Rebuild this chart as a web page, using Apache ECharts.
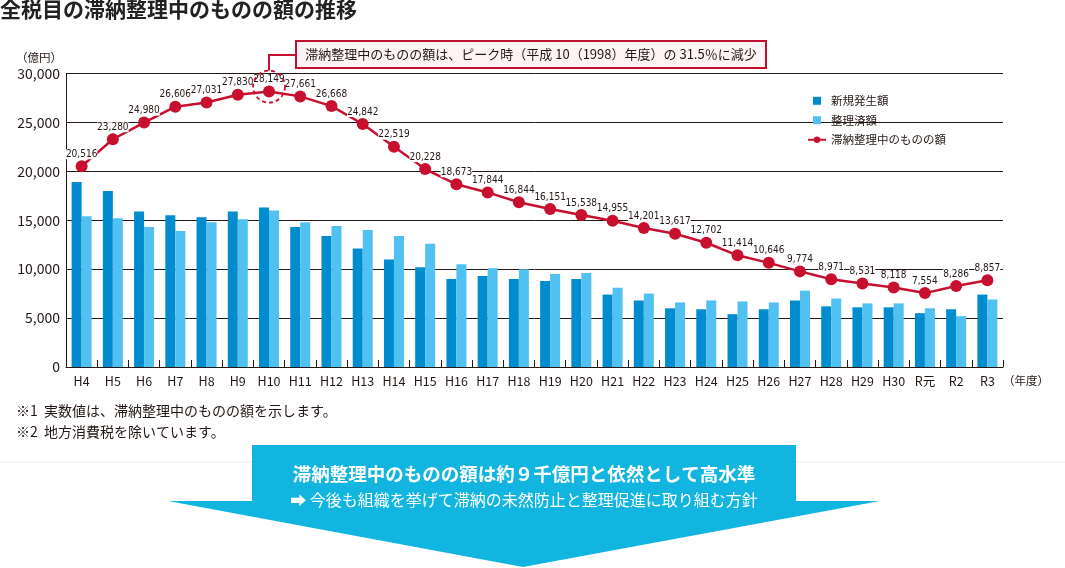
<!DOCTYPE html>
<html><head><meta charset="utf-8">
<script src="https://cdn.jsdelivr.net/npm/echarts@6/dist/echarts.min.js"></script>
<style>html,body{margin:0;padding:0;background:#fff}#c{width:1065px;height:568px}</style>
</head><body><div id="c"></div>
<script>
const categories = ['H4','H5','H6','H7','H8','H9','H10','H11','H12','H13','H14','H15','H16','H17','H18','H19','H20','H21','H22','H23','H24','H25','H26','H27','H28','H29','H30','R元','R2','R3'];
const newArrears = [18900,18000,15900,15500,15300,15900,16300,14300,13400,12100,11000,10200,9000,9300,9000,8800,9000,7400,6800,6000,5900,5400,5900,6800,6200,6100,6100,5500,5900,7400];
const settled = [15400,15200,14300,13900,14800,15100,16000,14800,14400,14000,13400,12600,10500,10100,10000,9500,9600,8100,7500,6600,6800,6700,6600,7800,7000,6500,6500,6000,5200,6900];
const outstanding = [20516,23280,24980,26606,27031,27830,28149,27661,26668,24842,22519,20228,18673,17844,16844,16151,15538,14955,14201,13617,12702,11414,10646,9774,8971,8531,8118,7554,8286,8857];
const seriesNames = ['新規発生額','整理済額','滞納整理中のものの額'];
const peakIndex = 6;

const JP = '"Noto Sans CJK JP","Noto Sans",sans-serif';
const NARROW = '"DejaVu Sans Condensed","Liberation Sans Narrow","Roboto",sans-serif';
const INK = '#231815';
const RED = '#c8102e';

const chart = echarts.init(document.getElementById('c'), null, {renderer: 'canvas'});
chart.setOption({
  animation: false,
  textStyle: {fontFamily: JP},
  grid: {left: 66, right: 62, top: 73.5, bottom: 201, containLabel: false},
  legend: {
    orient: 'vertical', left: 802, top: 90, itemWidth: 18, itemHeight: 8, itemGap: 8,
    textStyle: {fontSize: 11.5, color: INK, fontFamily: JP},
    data: [
      {name: seriesNames[0], icon: 'path://M0 0H10V10H0Z'},
      {name: seriesNames[1], icon: 'path://M0 0H10V10H0Z'},
      {name: seriesNames[2]}
    ]
  },
  xAxis: {
    type: 'category', data: categories, boundaryGap: true,
    axisLine: {lineStyle: {color: INK, width: 1}},
    axisTick: {show: true, inside: true, length: 7, interval: 0, lineStyle: {color: INK}},
    axisLabel: {interval: 0, fontSize: 12.5, color: INK, margin: 8, fontFamily: JP},
    splitLine: {show: false}
  },
  yAxis: {
    type: 'value', min: 0, max: 30000, interval: 5000,
    axisLine: {show: true, lineStyle: {color: INK, width: 1}},
    axisTick: {show: false},
    axisLabel: {fontSize: 14, color: INK, margin: 6, fontFamily: JP},
    splitLine: {lineStyle: {color: INK, width: 1}}
  },
  series: [
    {name: seriesNames[0], type: 'bar', data: newArrears, barWidth: 10, barGap: '0%', itemStyle: {color: '#008ccf'}},
    {name: seriesNames[1], type: 'bar', data: settled, barWidth: 10, barGap: '0%', itemStyle: {color: '#50c1f0'}},
    {name: seriesNames[2], type: 'line', data: outstanding, z: 5,
     symbol: 'circle', symbolSize: 12, itemStyle: {color: RED}, lineStyle: {color: RED, width: 2.5},
     label: {show: true, position: 'top', distance: 1, fontSize: 10, fontFamily: NARROW, color: INK,
             backgroundColor: '#fff', padding: [0, 0],
             formatter: p => p.value.toLocaleString('en-US')}}
  ]
});

const pk = chart.convertToPixel({seriesIndex: 2}, [peakIndex, outstanding[peakIndex]]);
const cx = pk[0], cy = pk[1] - 5, cr = 16;

chart.setOption({
  graphic: [
    {type: 'text', left: 0, top: -1, style: {text: '全税目の滞納整理中のものの額の推移', font: 'bold 21px ' + JP, fill: '#222'}},
    {type: 'text', x: 39, y: 58, style: {text: '（億円）', font: '11.5px ' + JP, fill: INK, align: 'center', verticalAlign: 'middle'}},
    {type: 'text', x: 1003, y: 381, style: {text: '（年度）', font: '11.5px ' + JP, fill: INK, align: 'left', verticalAlign: 'middle'}},
    {type: 'polyline', shape: {points: [[296, 55], [cx, 55], [cx, cy - cr]]}, style: {stroke: RED, lineWidth: 2, fill: null}},
    {type: 'rect', shape: {x: 296, y: 41, width: 470, height: 27}, style: {stroke: '#c0102e', lineWidth: 2, fill: '#fdf3f5'}},
    {type: 'text', x: 531, y: 54.5, style: {text: '滞納整理中のものの額は、ピーク時（平成 10（1998）年度）の 31.5％に減少', font: '13px ' + JP, fill: INK, align: 'center', verticalAlign: 'middle'}},
    {type: 'circle', shape: {cx: cx, cy: cy, r: cr}, style: {stroke: RED, lineWidth: 1.8, lineDash: [4, 3], fill: null}, z: 10},
    {type: 'text', x: 16, y: 411, style: {text: '※1  実数値は、滞納整理中のものの額を示します。', font: '14px ' + JP, fill: INK, verticalAlign: 'middle'}},
    {type: 'text', x: 16, y: 432, style: {text: '※2  地方消費税を除いています。', font: '14px ' + JP, fill: INK, verticalAlign: 'middle'}},
    {type: 'line', shape: {x1: 0, y1: 462, x2: 1065, y2: 462}, style: {stroke: '#eeeeee', lineWidth: 1}},
    {type: 'polygon', shape: {points: [[252, 445], [796, 445], [796, 501], [880, 501], [523, 567], [168, 501], [252, 501]]}, style: {fill: '#12b5e0'}},
    {type: 'text', x: 524, y: 474, style: {text: '滞納整理中のものの額は約９千億円と依然として高水準', font: 'bold 18.5px ' + JP, fill: '#fff', align: 'center', verticalAlign: 'middle'}},
    {type: 'text', x: 524, y: 500, style: {text: '➡ 今後も組織を挙げて滞納の未然防止と整理促進に取り組む方針', font: '16px ' + JP, fill: '#fff', align: 'center', verticalAlign: 'middle'}}
  ]
});
</script>
</body></html>
